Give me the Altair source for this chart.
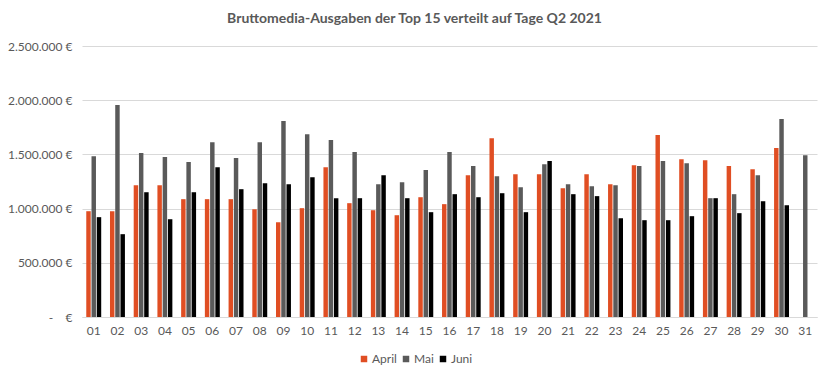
import altair as alt
import pandas as pd

days = [f"{d:02d}" for d in range(1, 32)]
april = [976, 976, 1216, 1216, 1087, 1087, 1087, 994, 874, 1004, 1382, 1050, 985, 939,
         1105, 1041, 1308, 1650, 1318, 1318, 1188, 1318, 1225, 1401, 1678, 1456, 1447, 1392, 1364, 1558, None]
mai = [1484, 1955, 1512, 1475, 1429, 1613, 1466, 1613, 1807, 1687, 1632, 1521, 1225, 1244,
       1355, 1521, 1392, 1299, 1198, 1410, 1225, 1207, 1216, 1392, 1438, 1419, 1096, 1133, 1308, 1826, 1493]
juni = [921, 764, 1151, 902, 1151, 1382, 1179, 1235, 1225, 1290, 1096, 1096, 1308, 1096,
        967, 1133, 1105, 1142, 967, 1438, 1133, 1115, 911, 893, 893, 930, 1096, 958, 1068, 1031, None]
months = ["April", "Mai", "Juni"]
colors = ["#E04E23", "#5A5A5A", "#000000"]

rows = []
for m, vals in zip(months, [april, mai, juni]):
    for d, v in zip(days, vals):
        if v is not None:
            rows.append({"Tag": d, "Monat": m, "Wert": v * 1000})
df = pd.DataFrame(rows)

font = "Lato"
label_expr = ("datum.value == 0 ? '-\u00a0\u00a0\u00a0\u00a0€' : "
              "replace(format(datum.value, ',.0f'), regexp(',', 'g'), '.') + ' €'")

chart = alt.Chart(df).mark_bar().encode(
    x=alt.X("Tag:N", sort=days, scale=alt.Scale(domain=days, paddingInner=0.37, paddingOuter=0.18),
            axis=alt.Axis(title=None, labelAngle=0, ticks=False, domainColor="#D9D9D9",
                          labelColor="#595959", labelFontSize=12, labelPadding=8, labelFont=font)),
    xOffset=alt.XOffset("Monat:N", sort=months, scale=alt.Scale(domain=months, paddingInner=0.15)),
    y=alt.Y("Wert:Q", scale=alt.Scale(domain=[0, 2500000]),
            axis=alt.Axis(title=None, values=[0, 500000, 1000000, 1500000, 2000000, 2500000],
                          labelExpr=label_expr, ticks=False, domain=False, gridColor="#D9D9D9",
                          labelColor="#595959", labelFontSize=12, labelPadding=10, labelFont=font)),
    color=alt.Color("Monat:N", sort=months, scale=alt.Scale(domain=months, range=colors),
                    legend=alt.Legend(title=None, orient="none", direction="horizontal",
                                      legendX=276, legendY=307, symbolType="square", symbolSize=42,
                                      symbolStrokeWidth=0, labelColor="#595959", labelFontSize=12,
                                      labelFont=font, columnPadding=3, labelOffset=2)),
).properties(
    width=735, height=271,
    title=alt.TitleParams("Bruttomedia-Ausgaben der Top 15 verteilt auf Tage Q2 2021",
                          anchor="middle", dx=-35, offset=14, fontSize=14, font=font,
                          fontWeight="bold", color="#595959"),
    autosize=alt.AutoSizeParams(type="none"),
    padding={"left": 74, "top": 38, "right": 7, "bottom": 54},
).configure_view(stroke=None)

chart.save("out.html", embed_options={"renderer": "svg", "actions": False})
